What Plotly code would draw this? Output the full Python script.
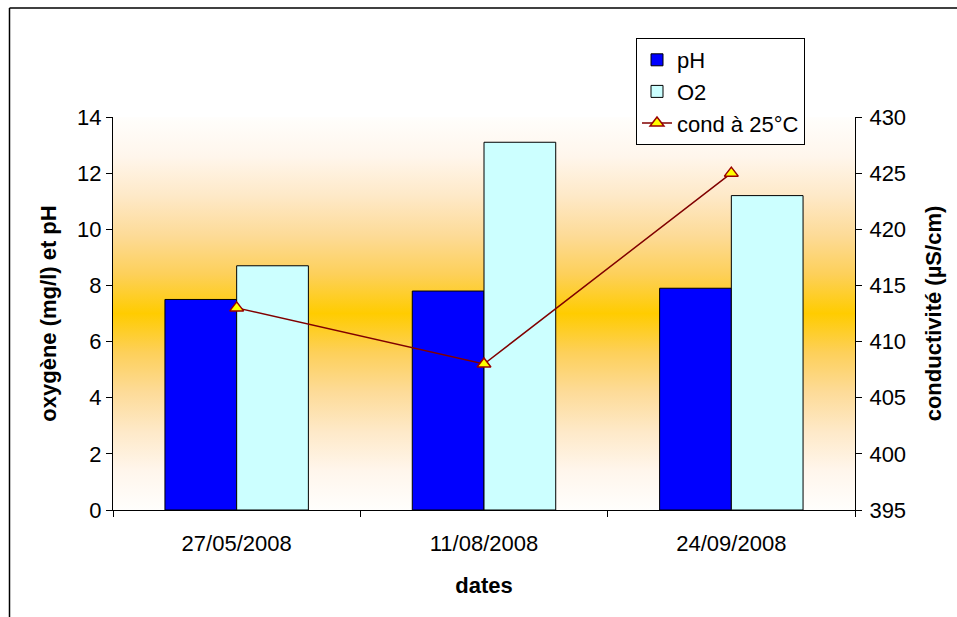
import base64
import plotly.graph_objects as go

# Sampling dates and measured values
dates = ["27/05/2008", "11/08/2008", "24/09/2008"]
ph = [7.5, 7.8, 7.9]
o2 = [8.7, 13.1, 11.2]
cond = [413, 408, 425]

FONT = "Liberation Sans, Arial, sans-serif"
FS = 22

# Vertical white -> gold -> white background for the plot area
stops = [
    (0.0, "#FFFEFC"), (0.1, "#FFF6EC"), (0.2, "#FEE9C8"), (0.3, "#FDDB98"),
    (0.4, "#FDD05A"), (0.5, "#FFCC00"), (0.6, "#FDD05A"), (0.7, "#FDDB98"),
    (0.8, "#FEE9C8"), (0.9, "#FFF6EC"), (1.0, "#FFFEFC"),
]
svg = (
    "<svg xmlns='http://www.w3.org/2000/svg' width='100' height='400' preserveAspectRatio='none'>"
    "<defs><linearGradient id='g' x1='0' y1='0' x2='0' y2='1'>"
    + "".join(f"<stop offset='{o}' stop-color='{c}'/>" for o, c in stops)
    + "</linearGradient></defs>"
    "<rect width='100' height='400' fill='url(#g)'/></svg>"
)
bg_src = "data:image/svg+xml;base64," + base64.b64encode(svg.encode()).decode()

fig = go.Figure()
fig.add_trace(go.Bar(
    x=dates, y=ph, name="pH", legendgroup="a",
    marker=dict(color="#0000FF", line=dict(color="black", width=1)),
))
fig.add_trace(go.Bar(
    x=dates, y=o2, name="O2", legendgroup="b",
    marker=dict(color="#CCFFFF", line=dict(color="black", width=1)),
))
fig.add_trace(go.Scatter(
    x=dates, y=cond, name="cond à 25°C", yaxis="y2", legendgroup="c",
    mode="lines+markers",
    line=dict(color="#800000", width=1.5),
    marker=dict(symbol="triangle-up", size=12, color="#FFFF00",
                line=dict(color="#990000", width=1.5)),
))

W, H = 957, 617
L, R, T, B = 113, 102, 117, 107
pw, ph_ = W - L - R, H - T - B


def px(x):
    return (x - L) / pw


def py(y):
    return (H - B - y) / ph_


fig.update_layout(
    width=W, height=H,
    margin=dict(l=L, r=R, t=T, b=B),
    paper_bgcolor="white",
    plot_bgcolor="rgba(0,0,0,0)",
    font=dict(family=FONT, size=FS, color="black"),
    barmode="group", bargap=0.42, bargroupgap=0,
    showlegend=True,
    legend=dict(
        x=px(636), y=py(38), xanchor="left", yanchor="top",
        bgcolor="white", bordercolor="black", borderwidth=1,
        font=dict(family=FONT, size=FS),
        traceorder="grouped", tracegroupgap=0,
        entrywidth=150, entrywidthmode="pixels",
    ),
    images=[dict(
        source=bg_src, xref="paper", yref="paper", x=0, y=1,
        sizex=1, sizey=1, xanchor="left", yanchor="top",
        sizing="stretch", layer="below",
    )],
    xaxis=dict(
        type="category", tickson="boundaries",
        showline=True, linecolor="black", linewidth=1,
        ticks="outside", ticklen=6, tickcolor="black",
        showgrid=False, ticklabelstandoff=14,
        title=dict(text="<b>dates</b>", standoff=22,
                   font=dict(family=FONT, size=FS)),
    ),
    yaxis=dict(
        range=[0, 14], dtick=2,
        showline=True, linecolor="black", linewidth=1,
        ticks="outside", ticklen=6, tickcolor="black",
        showgrid=False, zeroline=False,
        title=dict(text="<b>oxygène (mg/l) et pH</b>", standoff=14,
                   font=dict(family=FONT, size=FS)),
    ),
    yaxis2=dict(
        overlaying="y", side="right", range=[395, 430], dtick=5,
        showline=True, linecolor="black", linewidth=1,
        ticks="outside", ticklen=6, tickcolor="black",
        showgrid=False, zeroline=False, ticklabelstandoff=3,
        title=dict(text="<b>conductivité (µS/cm)</b>", standoff=20,
                   font=dict(family=FONT, size=FS)),
    ),
    shapes=[
        dict(type="line", xref="paper", yref="paper",
             x0=px(9.5), x1=px(9.5), y0=py(8), y1=py(H + 5),
             line=dict(color="black", width=1.5)),
        dict(type="line", xref="paper", yref="paper",
             x0=px(9.5), x1=px(W + 5), y0=py(8), y1=py(8),
             line=dict(color="black", width=1.5)),
    ],
)

fig.write_html("out.html")
